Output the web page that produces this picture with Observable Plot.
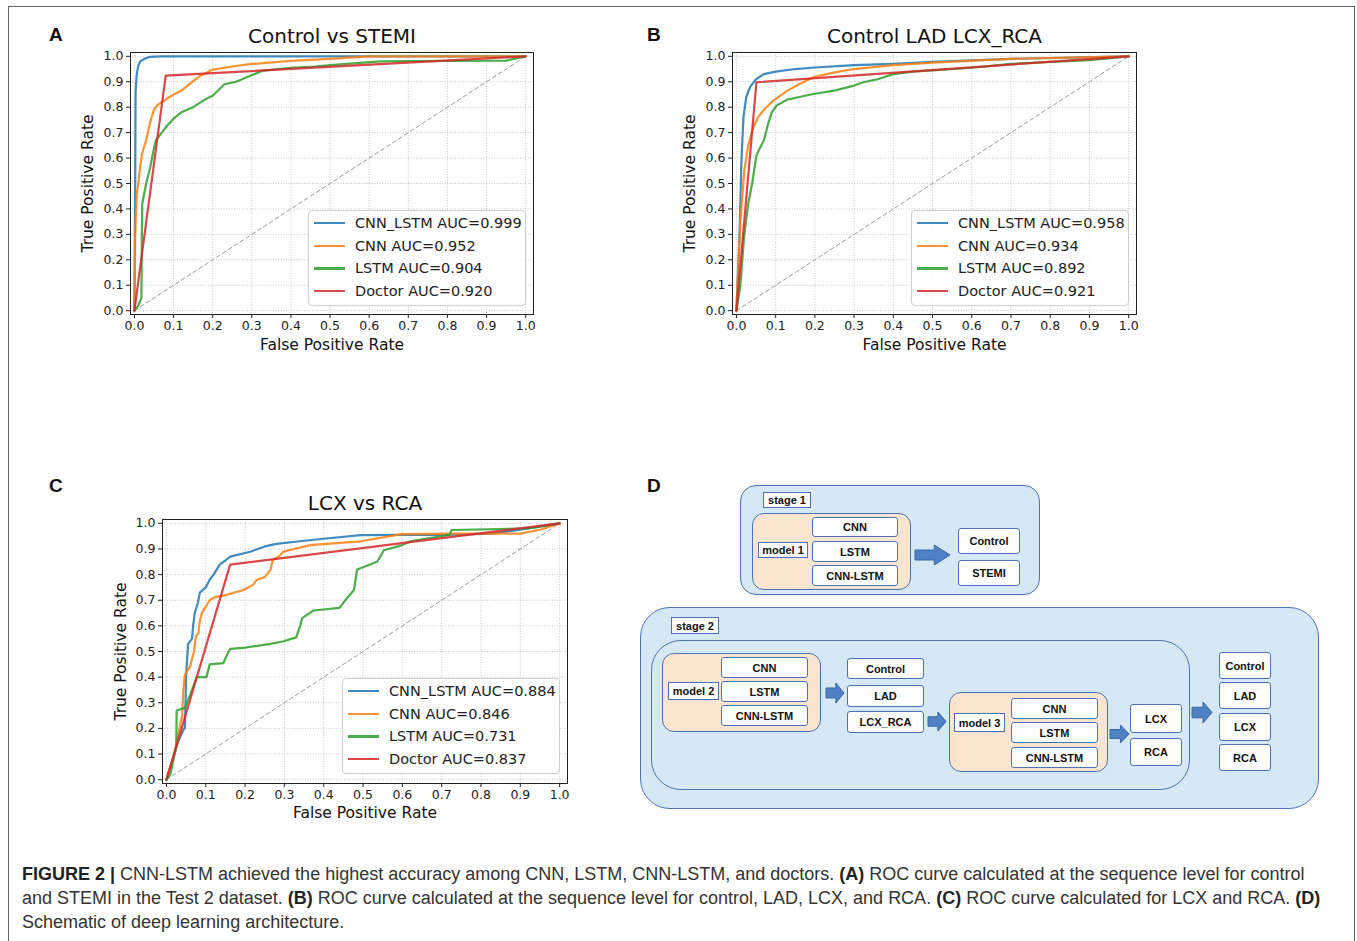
<!DOCTYPE html>
<html><head><meta charset="utf-8">
<script src="https://cdn.jsdelivr.net/npm/d3@7"></script>
<script src="https://cdn.jsdelivr.net/npm/@observablehq/plot@0.6"></script>
<style>
body{margin:0;background:#fff;}
#page{position:relative;width:1357px;height:941px;overflow:hidden;background:#fff;}
.abs{position:absolute;}
.border{position:absolute;left:8px;top:6px;width:1347px;height:960px;border:1.5px solid #666;box-sizing:border-box;}
.letter{position:absolute;font-family:"Liberation Sans",Arial,sans-serif;font-weight:bold;font-size:19px;color:#111;line-height:1;}
.legend{position:absolute;background:rgba(255,255,255,0.85);border:1px solid #cfcfcf;border-radius:4px;box-sizing:border-box;font-family:"DejaVu Sans";font-size:14.5px;color:#222;}
.legend .row{position:absolute;left:0;height:20px;line-height:20px;white-space:nowrap;}
.legend .sw{position:absolute;height:2.2px;width:31px;}
.legend .tx{position:absolute;}
.caption{position:absolute;left:22px;font-family:"Liberation Sans",Arial,sans-serif;font-size:18px;color:#333;white-space:nowrap;line-height:1;}
.caption b{color:#222;}
.dbox{position:absolute;box-sizing:border-box;font-family:"Liberation Sans",Arial,sans-serif;font-weight:bold;font-size:11px;color:#111;display:flex;align-items:center;justify-content:center;white-space:nowrap;}
.stage{background:#d6e8f5;border:1.5px solid #4a72b4;}
.model{background:#fbe5d1;border:1.5px solid #4a72b4;border-radius:12px;}
.wbox{background:#fff;border:1.5px solid #4a72b4;border-radius:3px;}
</style></head><body><div id="page"><div class="border"></div></div>
<script>
// ---------- data ----------
const TICKS = [0,0.1,0.2,0.3,0.4,0.5,0.6,0.7,0.8,0.9,1.0];
const DIAG = [[0,0],[1,1]];
const SERIES_NAMES = ["CNN_LSTM","CNN","LSTM","Doctor"];
const SERIES_COLORS = ["#1f77b4","#ff7f0e","#2ca02c","#d62728"];

const A_TITLE = "Control vs STEMI";
const A_AUC = ["0.999","0.952","0.904","0.920"];
const A_CNN_LSTM = [[0,0],[0.002,0.5],[0.003,0.86],[0.006,0.93],[0.01,0.965],[0.015,0.98],[0.025,0.99],[0.04,0.998],[0.07,1.0],[1,1]];
const A_CNN = [[0,0],[0.002,0.3],[0.006,0.46],[0.01,0.5],[0.015,0.57],[0.02,0.62],[0.03,0.67],[0.04,0.74],[0.05,0.79],[0.06,0.81],[0.08,0.83],[0.1,0.85],[0.12,0.865],[0.14,0.89],[0.165,0.92],[0.2,0.948],[0.25,0.96],[0.3,0.97],[0.4,0.982],[0.5,0.99],[0.6,1.0],[1,1]];
const A_LSTM = [[0,0],[0.01,0.02],[0.018,0.05],[0.019,0.3],[0.02,0.42],[0.03,0.5],[0.04,0.56],[0.05,0.64],[0.055,0.67],[0.07,0.7],[0.085,0.73],[0.1,0.755],[0.12,0.78],[0.15,0.8],[0.18,0.83],[0.2,0.845],[0.23,0.89],[0.26,0.9],[0.29,0.92],[0.33,0.944],[0.4,0.955],[0.46,0.96],[0.5,0.965],[0.63,0.98],[0.8,0.982],[0.95,0.983],[1,1]];
const A_DOCTOR = [[0,0],[0.08,0.924],[1,1]];

const B_TITLE = "Control LAD LCX_RCA";
const B_AUC = ["0.958","0.934","0.892","0.921"];
const B_CNN_LSTM = [[0,0],[0.008,0.3],[0.013,0.6],[0.018,0.76],[0.025,0.84],[0.035,0.88],[0.05,0.91],[0.07,0.93],[0.1,0.94],[0.15,0.95],[0.2,0.956],[0.3,0.965],[0.4,0.97],[0.5,0.978],[0.7,0.99],[1,1]];
const B_CNN = [[0,0],[0.01,0.35],[0.02,0.55],[0.03,0.65],[0.043,0.72],[0.055,0.76],[0.07,0.79],[0.094,0.826],[0.13,0.865],[0.16,0.89],[0.196,0.918],[0.25,0.937],[0.3,0.95],[0.4,0.965],[0.5,0.975],[0.7,0.99],[1,1]];
const B_LSTM = [[0,0],[0.01,0.1],[0.02,0.3],[0.03,0.42],[0.04,0.5],[0.051,0.61],[0.06,0.64],[0.07,0.67],[0.08,0.73],[0.09,0.78],[0.102,0.806],[0.13,0.83],[0.16,0.84],[0.196,0.852],[0.25,0.865],[0.3,0.885],[0.323,0.898],[0.36,0.91],[0.4,0.93],[0.45,0.94],[0.5,0.945],[0.6,0.955],[0.7,0.97],[0.8,0.978],[0.9,0.985],[1,1]];
const B_DOCTOR = [[0,0],[0.051,0.898],[1,1]];

const C_TITLE = "LCX vs RCA";
const C_AUC = ["0.884","0.846","0.731","0.837"];
const C_CNN_LSTM = [[0,0],[0.01,0.05],[0.02,0.1],[0.03,0.15],[0.045,0.2],[0.047,0.2],[0.05,0.4],[0.055,0.53],[0.065,0.55],[0.068,0.6],[0.072,0.65],[0.08,0.69],[0.085,0.73],[0.1,0.75],[0.11,0.78],[0.12,0.8],[0.136,0.84],[0.15,0.855],[0.162,0.87],[0.213,0.889],[0.25,0.91],[0.28,0.92],[0.35,0.932],[0.4,0.94],[0.494,0.954],[0.6,0.955],[0.706,0.955],[0.83,0.96],[0.9,0.975],[1,1]];
const C_CNN = [[0,0],[0.02,0.1],[0.04,0.25],[0.043,0.35],[0.047,0.41],[0.06,0.44],[0.07,0.5],[0.075,0.56],[0.081,0.57],[0.085,0.62],[0.09,0.65],[0.098,0.67],[0.11,0.7],[0.12,0.71],[0.15,0.72],[0.196,0.74],[0.22,0.76],[0.23,0.78],[0.25,0.79],[0.265,0.82],[0.27,0.856],[0.285,0.87],[0.298,0.89],[0.366,0.915],[0.45,0.925],[0.494,0.93],[0.6,0.958],[0.75,0.96],[0.9,0.96],[0.95,0.975],[1,1]];
const C_LSTM = [[0,0],[0.01,0.02],[0.025,0.13],[0.026,0.27],[0.047,0.28],[0.06,0.33],[0.077,0.4],[0.102,0.4],[0.11,0.45],[0.145,0.455],[0.155,0.49],[0.162,0.51],[0.2,0.515],[0.264,0.53],[0.298,0.54],[0.33,0.555],[0.34,0.6],[0.345,0.63],[0.374,0.66],[0.44,0.67],[0.46,0.71],[0.477,0.74],[0.485,0.82],[0.536,0.85],[0.553,0.895],[0.6,0.915],[0.62,0.93],[0.72,0.955],[0.725,0.974],[0.92,0.98],[1,1]];
const C_DOCTOR = [[0,0],[0.162,0.839],[1,1]];

const X_LABEL = "False Positive Rate";
const Y_LABEL = "True Positive Rate";

const page = document.getElementById("page");

function rocPlot(cfg){
  const series = [cfg.s0, cfg.s1, cfg.s2, cfg.s3];
  const marks = [
    Plot.ruleX(TICKS, {stroke:"#b8b8b8", strokeWidth:0.8, strokeDasharray:"1,1.6"}),
    Plot.ruleY(TICKS, {stroke:"#b8b8b8", strokeWidth:0.8, strokeDasharray:"1,1.6"}),
    Plot.line(DIAG, {x:d=>d[0], y:d=>d[1], stroke:"#9a9a9a", strokeWidth:1, strokeDasharray:"4,3"}),
  ];
  series.forEach((s,i)=>{
    marks.push(Plot.line(s, {x:d=>d[0], y:d=>d[1], stroke:SERIES_COLORS[i], strokeWidth:2.2, strokeOpacity:0.85}));
  });
  marks.push(Plot.frame({stroke:"#222", strokeWidth:1}));
  marks.push(Plot.text([cfg.title], {text:d=>d, frameAnchor:"top", lineAnchor:"middle", textAnchor:"middle", dy:-16, fontSize:20, fill:"#111"}));
  marks.push(Plot.text([X_LABEL], {text:d=>d, frameAnchor:"bottom", lineAnchor:"middle", textAnchor:"middle", dy:cfg.xl, fontSize:15.5, fill:"#111"}));
  marks.push(Plot.text([Y_LABEL], {text:d=>d, frameAnchor:"left", lineAnchor:"middle", textAnchor:"middle", dx:-cfg.yl, rotate:-90, fontSize:15.5, fill:"#111"}));
  const svg = Plot.plot({
    width:cfg.w, height:cfg.h,
    marginLeft:cfg.ml, marginRight:cfg.mr, marginTop:cfg.mt, marginBottom:cfg.mb,
    x:{domain:[-0.01,1.02], ticks:TICKS, tickFormat:d=>d.toFixed(1), tickSize:4, tickPadding:3, label:null},
    y:{domain:[-0.015,1.015], ticks:TICKS, tickFormat:d=>d.toFixed(1), tickSize:4, tickPadding:3, label:null},
    style:{fontFamily:"DejaVu Sans", fontSize:"12.5px", color:"#222", background:"transparent"},
    marks
  });
  svg.style.position = "absolute";
  svg.style.left = cfg.left+"px";
  svg.style.top = cfg.top+"px";
  page.appendChild(svg);

  // legend
  const lg = document.createElement("div");
  lg.className = "legend";
  lg.style.left = cfg.lgx+"px"; lg.style.top = cfg.lgy+"px";
  lg.style.width = cfg.lgw+"px"; lg.style.height = "96px";
  SERIES_NAMES.forEach((n,i)=>{
    const row = document.createElement("div");
    row.className = "row";
    row.style.top = (2 + i*22.7)+"px";
    const sw = document.createElement("div");
    sw.className = "sw";
    sw.style.left = "5px"; sw.style.top = "9px";
    sw.style.background = SERIES_COLORS[i]; sw.style.opacity = 0.85;
    const tx = document.createElement("div");
    tx.className = "tx"; tx.style.left = "46px"; tx.style.top = "0px";
    tx.textContent = n + " AUC=" + cfg.auc[i];
    row.appendChild(sw); row.appendChild(tx);
    lg.appendChild(row);
  });
  page.appendChild(lg);
}

rocPlot({s0:A_CNN_LSTM,s1:A_CNN,s2:A_LSTM,s3:A_DOCTOR,title:A_TITLE,auc:A_AUC,
  left:60, top:10, w:490, h:360, ml:70, mr:17, mt:42, mb:56, xl:31, yl:42,
  lgx:308, lgy:210, lgw:218});
rocPlot({s0:B_CNN_LSTM,s1:B_CNN,s2:B_LSTM,s3:B_DOCTOR,title:B_TITLE,auc:B_AUC,
  left:660, top:10, w:490, h:360, ml:72, mr:14, mt:42, mb:56, xl:31, yl:42,
  lgx:911, lgy:210, lgw:218});
rocPlot({s0:C_CNN_LSTM,s1:C_CNN,s2:C_LSTM,s3:C_DOCTOR,title:C_TITLE,auc:C_AUC,
  left:90, top:477, w:490, h:360, ml:72, mr:13, mt:42, mb:54, xl:30, yl:41,
  lgx:342, lgy:678, lgw:218});

// panel letters
[["A",49,25],["B",647,25],["C",49,476],["D",647,476]].forEach(([t,x,y])=>{
  const d=document.createElement("div"); d.className="letter"; d.textContent=t;
  d.style.left=x+"px"; d.style.top=y+"px"; page.appendChild(d);
});

// ---------- diagram D ----------
function box(cls,x0,y0,x1,y1,text,extra){
  const d=document.createElement("div"); d.className="dbox "+cls;
  d.style.left=x0+"px"; d.style.top=y0+"px";
  d.style.width=(x1-x0)+"px"; d.style.height=(y1-y0)+"px";
  if(text) d.textContent=text;
  if(extra) Object.assign(d.style, extra);
  page.appendChild(d); return d;
}
function arrow(x0,y0,x1,y1){
  const w=x1-x0,h=y1-y0;
  const ns="http://www.w3.org/2000/svg";
  const s=document.createElementNS(ns,"svg");
  s.setAttribute("width",w+2); s.setAttribute("height",h+2);
  s.style.position="absolute"; s.style.left=(x0-1)+"px"; s.style.top=(y0-1)+"px";
  const p=document.createElementNS(ns,"polygon");
  const bx=1+w*0.55, t=1+h*0.25, b=1+h*0.75;
  p.setAttribute("points",`1,${t} ${bx},${t} ${bx},1 ${1+w},${1+h/2} ${bx},${1+h} ${bx},${b} 1,${b}`);
  p.setAttribute("fill","#4f81c4"); p.setAttribute("stroke","#3a66a8"); p.setAttribute("stroke-width","1");
  s.appendChild(p); page.appendChild(s);
}
// stage 1
box("stage",740,485,1040,595,"",{borderRadius:"16px"});
box("wbox",763,492,811,508,"stage 1",{borderRadius:"0"});
box("model",752,513,911,590,"");
box("wbox",758,542,808,558,"model 1",{borderRadius:"0"});
box("wbox",812,517,898,537,"CNN");
box("wbox",812,541,898,562,"LSTM");
box("wbox",812,565,898,586,"CNN-LSTM");
arrow(915,545,950,565);
box("wbox",958,528,1020,554,"Control");
box("wbox",958,560,1020,586,"STEMI");
// stage 2
box("stage",640,607,1319,809,"",{borderRadius:"30px"});
box("wbox",671,617,719,634,"stage 2",{borderRadius:"0"});
box("stage",651,640,1190,790,"",{borderRadius:"30px"});
box("model",662,653,821,732,"");
box("wbox",668,682,719,700,"model 2",{borderRadius:"0"});
box("wbox",721,657,808,678,"CNN");
box("wbox",721,681,808,702,"LSTM");
box("wbox",721,705,808,726,"CNN-LSTM");
arrow(826,683,844,703);
box("wbox",847,658,924,679,"Control");
box("wbox",847,685,924,707,"LAD");
box("wbox",847,711,924,733,"LCX_RCA");
arrow(928,712,946,731);
box("model",949,692,1108,772,"");
box("wbox",954,713,1005,732,"model 3",{borderRadius:"0"});
box("wbox",1011,698,1098,719,"CNN");
box("wbox",1011,722,1098,743,"LSTM");
box("wbox",1011,747,1098,768,"CNN-LSTM");
arrow(1110,725,1129,743);
box("wbox",1130,704,1182,733,"LCX");
box("wbox",1130,738,1182,766,"RCA");
arrow(1192,702,1212,723);
box("wbox",1219,652,1271,679,"Control");
box("wbox",1219,682,1271,709,"LAD");
box("wbox",1219,713,1271,741,"LCX");
box("wbox",1219,744,1271,771,"RCA");

// ---------- caption ----------
const CAPTION = [
  '<b>FIGURE 2 |</b> CNN-LSTM achieved the highest accuracy among CNN, LSTM, CNN-LSTM, and doctors. <b>(A)</b> ROC curve calculated at the sequence level for control',
  'and STEMI in the Test 2 dataset. <b>(B)</b> ROC curve calculated at the sequence level for control, LAD, LCX, and RCA. <b>(C)</b> ROC curve calculated for LCX and RCA. <b>(D)</b>',
  'Schematic of deep learning architecture.'
];
CAPTION.forEach((t,i)=>{
  const d=document.createElement("div"); d.className="caption"; d.innerHTML=t;
  d.style.top=(865+i*24)+"px"; page.appendChild(d);
});
</script></body></html>
